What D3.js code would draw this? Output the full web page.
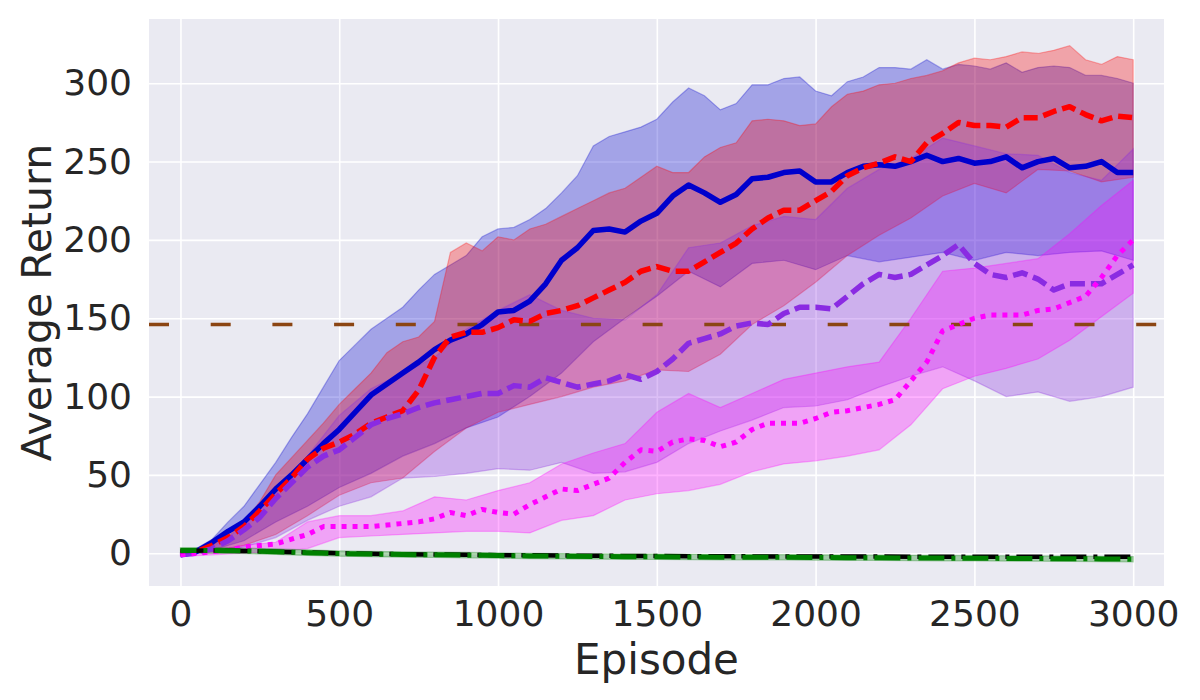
<!DOCTYPE html>
<html>
<head>
<meta charset="utf-8">
<script src="https://cdn.jsdelivr.net/npm/d3@7"></script>
<style>
  body { margin: 0; background: #fff; }
  text { font-family: "DejaVu Sans", sans-serif; fill: #262626; }
</style>
</head>
<body>
<div id="chart"></div>
<script>
// episodes for the mean curves (every 50) and for most band edges (every 100)
let lineEpisodes = [0,50,100,150,200,250,300,350,400,450,500,550,600,650,700,750,800,850,900,950,
  1000,1050,1100,1150,1200,1250,1300,1350,1400,1450,1500,1550,1600,1650,1700,1750,1800,1850,1900,1950,
  2000,2050,2100,2150,2200,2250,2300,2350,2400,2450,2500,2550,2600,2650,2700,2750,2800,2850,2900,2950,3000];
let bandEpisodes = [0,100,200,300,400,500,600,700,800,900,1000,1100,1200,1300,1400,1500,
  1600,1700,1800,1900,2000,2100,2200,2300,2400,2500,2600,2700,2800,2900,3000];

// mean returns
let blueMean = [-1,1,7,14,20,30,41,50,60,70,79,90,101,108,115,122,130,136,140,146,
  154,155,161,172,187,195,206,207,205,212,217,228,235,230,224,229,239,240,243,244,
  237,237,243,247,248,247,250,254,250,252,249,250,253,246,250,252,246,247,250,243,243];
let redMean = [0,1,5,10,17,27,38,48,60,67,71,76,83,87,91,104,125,138,141,141,
  144,149,148,153,155,158,163,168,173,180,183,180,180,186,192,198,207,214,219,219,
  225,231,241,246,249,253,250,262,268,275,273,273,272,278,278,282,285,280,276,279,278];
let purpleMean = [-1,0,3,8,15,23,35,45,55,62,66,74,82,86,89,93,96,98,100,102,
  102,107,106,112,109,106,108,110,114,111,116,124,134,137,140,145,147,146,153,157,
  157,156,164,172,178,176,178,184,190,197,185,178,176,179,175,168,172,172,172,178,184];
let magentaMean = [-1,0,1,2,4,5,6,9,12,17,17,17,17,18,19,20,22,26,24,28,
  26,25,31,36,41,40,44,48,58,66,65,71,73,72,68,71,79,83,83,83,
  86,90,91,93,95,98,110,122,142,146,150,152,152,152,155,156,160,164,176,190,200];
let blackMean = [1.5,1.8,1.5,1,0.5,0,-0.3,-0.6,-0.8,-1,-1.2,-1.3,-1.5,-1.6,-1.7,-1.8,
  -1.9,-1.9,-2,-2,-2.1,-2.1,-2.1,-2.2,-2.2,-2.2,-2.2,-2.2,-2.2,-2.2,-2.2];
let greenMean = [1.8,1.8,1.5,1,0.4,-0.2,-0.5,-0.8,-1,-1.2,-1.5,-1.7,-1.9,-2,-2.2,-2.3,
  -2.4,-2.5,-2.6,-2.6,-2.7,-2.8,-2.9,-3,-3.1,-3.2,-3.3,-3.4,-3.5,-3.6,-3.8];

// shaded bands; the blue and red upper edges are read every 50 episodes
let blueUpper = [0,3,9,20,30,44,58,74,89,106,123,133,143,150,157,168,178,184,190,202,
  207,208,213,220,230,241,260,266,269,272,277,288,297,292,283,287,299,299,303,304,
  295,292,301,304,310,310,309,315,309,312,311,309,313,307,310,311,310,305,305,303,300];
let blueLower = [0,2,8,20,30,42,51,62,70,80,87,100,115,135,150,164,180,170,185,187,
  181,190,186,189,192,187,192,190,192,193,187];
let redUpper = [0,1,5,11,19,33,50,61,72,83,95,105,115,128,135,138,148,192,198,193,
  202,200,207,210,215,220,225,230,233,240,247,243,243,253,259,262,276,277,276,273,
  274,285,293,295,299,300,303,305,308,313,316,315,317,320,319,321,324,315,312,317,315];
let redLower = [0,1,5,12,24,37,45,48,65,80,90,95,100,106,110,117,116,127,146,158,
  173,190,203,214,228,236,230,245,244,237,240];
let purpleUpper = [0,4,17,38,62,88,105,115,125,143,155,165,155,150,149,165,195,198,209,215,
  213,233,245,252,265,260,255,254,243,238,258];
let purpleLower = [-1,1,4,10,21,30,36,48,49,51,54,53,58,51,52,58,70,78,85,93,
  94,98,106,113,119,110,100,103,97,100,106];
let magentaUpper = [0,2,5,7,20,24,24,27,36,34,40,45,57,64,70,90,102,93,102,111,
  115,119,122,150,180,182,185,188,204,222,238];
let magentaLower = [-2,-1,0,1,3,10,11,12,13,14,14,13,21,24,34,38,40,44,52,57,
  59,62,66,82,105,113,118,124,136,151,166];
let greenUpper = [3.6,3.6,3.3,2.8,2.2,1.5,1.2,0.9,0.7,0.5,0.2,0,-0.2,-0.3,-0.5,-0.6,
  -0.7,-0.8,-0.9,-0.9,-1,-1.1,-1.2,-1.3,-1.4,-1.5,-1.6,-1.7,-1.8,-1.9,-2.1];
let greenLower = [0,0,-0.3,-0.8,-1.4,-1.9,-2.2,-2.5,-2.7,-2.9,-3.2,-3.4,-3.6,-3.7,-3.9,-4,
  -4.1,-4.2,-4.3,-4.3,-4.4,-4.5,-4.6,-4.7,-4.8,-4.9,-5,-5.1,-5.2,-5.3,-5.5];

let threshold = 146;

let xTicks = [0,500,1000,1500,2000,2500,3000];
let yTicks = [0,50,100,150,200,250,300];

// overall size and plot area
let svgWidth = 1200;
let svgHeight = 700;
let plot = { left: 149, top: 19, right: 1164, bottom: 586 };

let svg = d3.select("#chart")
  .append("svg")
  .attr("width", svgWidth)
  .attr("height", svgHeight);

let xScale = d3.scaleLinear().domain([-99, 3097]).range([plot.left, plot.right]);
let yScale = d3.scaleLinear().domain([-20.9, 341]).range([plot.bottom, plot.top]);

// background
svg.append("rect")
  .attr("x", plot.left).attr("y", plot.top)
  .attr("width", plot.right - plot.left).attr("height", plot.bottom - plot.top)
  .attr("fill", "#eaeaf2");

svg.append("clipPath").attr("id", "clip")
  .append("rect")
  .attr("x", plot.left).attr("y", plot.top)
  .attr("width", plot.right - plot.left).attr("height", plot.bottom - plot.top);

// grid lines + tick labels
let xAxis = d3.axisBottom(xScale).tickValues(xTicks).tickFormat(d3.format("d"))
  .tickSize(-(plot.bottom - plot.top)).tickPadding(14);
let yAxis = d3.axisLeft(yScale).tickValues(yTicks).tickFormat(d3.format("d"))
  .tickSize(-(plot.right - plot.left)).tickPadding(17);

let gx = svg.append("g").attr("transform", `translate(0,${plot.bottom})`).call(xAxis);
let gy = svg.append("g").attr("transform", `translate(${plot.left},0)`).call(yAxis);
[gx, gy].forEach(g => {
  g.select(".domain").remove();
  g.selectAll(".tick line").attr("stroke", "#fff").attr("stroke-width", 1.6);
  g.selectAll(".tick text").attr("font-size", "36px").attr("fill", "#262626");
});

let chartGroup = svg.append("g").attr("clip-path", "url(#clip)");

// a band is the upper edge forward, then the lower edge back
function band(xsUp, upper, xsLo, lower, color) {
  let pts = xsUp.map((e, i) => [xScale(e), yScale(upper[i])])
    .concat(xsLo.map((e, i) => [xScale(e), yScale(lower[i])]).reverse());
  chartGroup.append("path")
    .attr("d", d3.line()(pts) + "Z")
    .attr("fill", color)
    .attr("fill-opacity", 0.3)
    .attr("stroke", color)
    .attr("stroke-opacity", 0.3)
    .attr("stroke-width", 1.2);
}

band(lineEpisodes, blueUpper, bandEpisodes, blueLower, "#0000cd");
band(lineEpisodes, redUpper, bandEpisodes, redLower, "#ff0000");
band(bandEpisodes, purpleUpper, bandEpisodes, purpleLower, "#8a2be2");
band(bandEpisodes, magentaUpper, bandEpisodes, magentaLower, "#ff00ff");
band(bandEpisodes, greenUpper, bandEpisodes, greenLower, "#008000");

// threshold line
chartGroup.append("line")
  .attr("x1", plot.left).attr("x2", plot.right)
  .attr("y1", yScale(threshold)).attr("y2", yScale(threshold))
  .attr("stroke", "#8b4513")
  .attr("stroke-width", 3.6)
  .attr("stroke-dasharray", "20,41.7");

// mean curves
function curve(xs, ys, color, width, dash, offset) {
  let line = d3.line().x((d, i) => xScale(xs[i])).y(d => yScale(d));
  chartGroup.append("path")
    .datum(ys)
    .attr("d", line)
    .attr("fill", "none")
    .attr("stroke", color)
    .attr("stroke-width", width)
    .attr("stroke-linejoin", "round")
    .attr("stroke-dasharray", dash)
    .attr("stroke-dashoffset", offset || 0);
}

curve(lineEpisodes, blueMean, "#0000cd", 5.5, null);
curve(lineEpisodes, redMean, "#ff0000", 5.5, "14,6");
curve(lineEpisodes, purpleMean, "#8a2be2", 5.5, "15,6");
curve(lineEpisodes, magentaMean, "#ff00ff", 5, "5,6");
curve(bandEpisodes, blackMean, "#000000", 4.5, "26,7,4,7");
curve(bandEpisodes, greenMean, "#008000", 5, "26,7,4,7", 10);

// axis labels
svg.append("text")
  .attr("x", (plot.left + plot.right) / 2)
  .attr("y", 674)
  .attr("text-anchor", "middle")
  .attr("font-size", "42px")
  .text("Episode");

svg.append("text")
  .attr("transform", `translate(51,${(plot.top + plot.bottom) / 2}) rotate(-90)`)
  .attr("text-anchor", "middle")
  .attr("font-size", "41px")
  .text("Average Return");
</script>
</body>
</html>
